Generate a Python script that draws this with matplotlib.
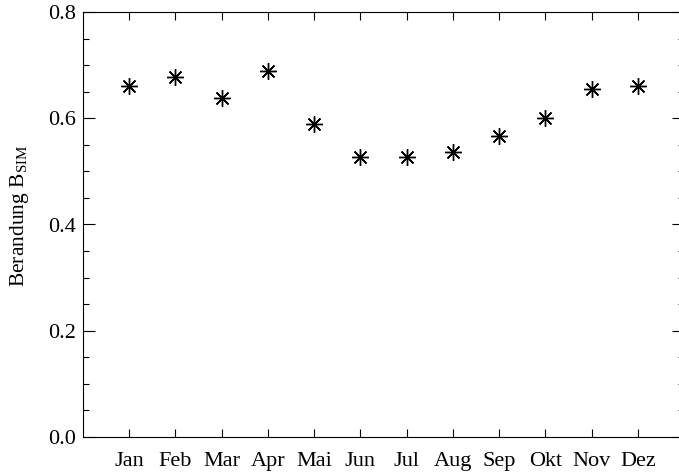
import matplotlib.pyplot as plt
from matplotlib.ticker import MultipleLocator, FormatStrFormatter

plt.rcParams["font.family"] = "Liberation Serif"
plt.rcParams["mathtext.fontset"] = "custom"
plt.rcParams["mathtext.rm"] = "Liberation Serif"

months = ["Jan", "Feb", "Mar", "Apr", "Mai", "Jun",
          "Jul", "Aug", "Sep", "Okt", "Nov", "Dez"]
month_pos = list(range(1, 13))
berandung = [0.660, 0.678, 0.638, 0.689, 0.589, 0.528,
             0.527, 0.536, 0.566, 0.601, 0.656, 0.660]

fig = plt.figure(figsize=(6.79, 4.73), dpi=100)
# right edge of the frame sits just outside the canvas
ax = fig.add_axes([83 / 679, 36 / 473, 601 / 679, 425 / 473])

ax.plot(month_pos, berandung, linestyle="none", marker=(8, 2, 0),
        markersize=12, markeredgewidth=1.0, color="black")

ax.set_xlim(0, 13)
ax.set_ylim(0, 0.8)
ax.set_xticks(month_pos, months)
ax.yaxis.set_major_locator(MultipleLocator(0.2))
ax.yaxis.set_minor_locator(MultipleLocator(0.05))
ax.yaxis.set_major_formatter(FormatStrFormatter("%.1f"))

ax.tick_params(axis="both", direction="in", top=True, right=True,
               labelsize=16, colors="black", width=0.8)
ax.tick_params(axis="x", which="major", length=5.5, pad=11)
ax.tick_params(axis="y", which="major", length=8.6, pad=5)
ax.tick_params(axis="y", which="minor", length=4.3, width=0.8,
               direction="in", right=True)
for sp in ax.spines.values():
    sp.set_linewidth(0.8)

ax.set_ylabel(r"Berandung B$_{\mathrm{SIM}}$", fontsize=15.5)
ax.yaxis.set_label_coords(-0.086, 0.52)

fig.savefig("out.png", dpi=100)
